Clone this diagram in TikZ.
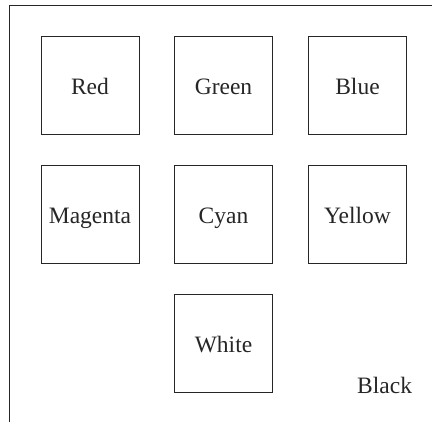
\documentclass[tikz,border=0pt]{standalone}
\usepackage{fontspec}
\setmainfont{Liberation Serif}
\begin{document}
\begin{tikzpicture}[x=1pt,y=-1pt,
  cbox/.style={draw=black!85, line width=1pt, minimum width=98pt, minimum height=98pt, inner sep=0pt, text height=18pt, text depth=1.4pt, font=\fontsize{23.5}{28}\selectfont, text=black!85},
  lbl/.style={font=\fontsize{23.5}{28}\selectfont, text=black!85, inner sep=0pt}]
\useasboundingbox (0,0) rectangle (432,422);
\coordinate (tl) at (9,6);
\coordinate (tr) at (432,6);
\coordinate (bl) at (9,422);
\draw[line width=1pt, black!85] (tr) -- (tl) -- (bl);
\node[cbox] (red) at (90,86) {Red};
\node[cbox] (green) at (223.5,86) {Green};
\node[cbox] (blue) at (357.5,86) {Blue};
\node[cbox] (magenta) at (90,215) {Magenta};
\node[cbox] (cyan) at (223.5,215) {Cyan};
\node[cbox] (yellow) at (357.5,215) {Yellow};
\node[cbox] (white) at (223.5,344) {White};
\node[lbl, anchor=base west] (black) at (357,393.7) {Black};
\end{tikzpicture}
\end{document}
